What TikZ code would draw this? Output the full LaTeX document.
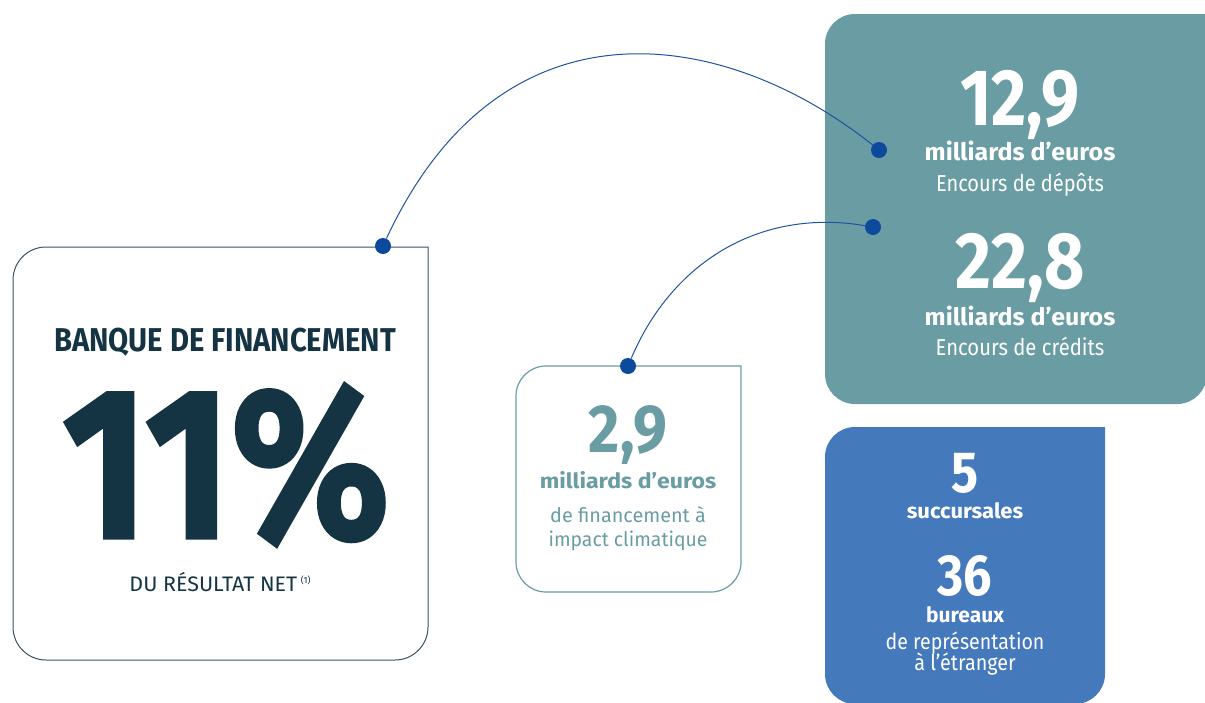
\documentclass[tikz,border=0pt]{standalone}
\usepackage{fontspec}
\setmainfont{Fira Sans}
\newfontfamily\heavyfont[BoldFeatures={FakeBold=1.5}]{Fira Sans}
\usepackage{graphicx}
\usepackage{tikz}

\definecolor{navy}{HTML}{143443}
\definecolor{boxnavy}{HTML}{3B5262}
\definecolor{tealbox}{HTML}{699DA3}
\definecolor{bluebox}{HTML}{4479BC}
\definecolor{dotblue}{HTML}{0E4A9B}
\definecolor{lineblue}{HTML}{1F539F}

\newcommand{\sq}[2][0.82]{\scalebox{#1}[1]{#2}}
\newcommand{\fs}[1]{\fontsize{#1}{#1}\selectfont}

\begin{document}
\begin{tikzpicture}[x=1pt,y=-1pt,
	dot/.style={shape=circle,fill=dotblue,inner sep=0pt,minimum size=16pt},
	link/.style={draw=lineblue,line width=1pt},
	txt/.style={anchor=base,inner sep=0pt}]
	\useasboundingbox (0,0) rectangle (1205,702);

	\fill[tealbox] (1000,14) -- (1207,14) [rounded corners=30pt] -- (1207,404) -- (825,404) -- (825,14) -- cycle;
	\fill[bluebox] (965,427) -- (1105,427) [rounded corners=30pt] -- (1105,704) -- (825,704) -- (825,427) -- cycle;
	\draw[boxnavy,line width=1pt] (220,247) -- (428,247) [rounded corners=33pt] -- (428,660) -- (13,660) -- (13,247) -- cycle;
	\draw[tealbox,line width=1.2pt] (628,366) -- (741,366) [rounded corners=30pt] -- (741,592) -- (516,592) -- (516,366) -- cycle;

	\node[dot] (d1) at (383,246) {};
	\node[dot] (d2) at (879,150) {};
	\node[dot] (d3) at (873,227) {};
	\node[dot] (d4) at (628,366) {};

	\draw[link] (d1) .. controls (501,-8) and (723,26) .. (d2);
	\draw[link] (d4) .. controls (672,262) and (760,208) .. (d3);

	\node[txt,text=navy,font=\bfseries\fs{33}] (titre) at (225,351) {\sq[0.885]{BANQUE DE FINANCEMENT}};
	\node[txt,text=navy,font=\heavyfont\bfseries\fs{215}] (pct) at (226,538) {\sq[0.86]{11\%}};
	\node[txt,text=navy,font=\fs{21}] (net) at (220,591) {\sq[1.02]{DU RÉSULTAT NET\,\raisebox{8pt}{\fs{9}(1)}}};

	\node[txt,text=tealbox,font=\bfseries\fs{68}] (v29) at (628,452) {\sq[0.89]{2,9}};
	\node[txt,text=tealbox,font=\bfseries\fs{21}] (m29) at (628,488) {\sq[1.1]{milliards d’euros}};
	\node[txt,text=tealbox,font=\fs{20}] (f1) at (628,522) {\sq[0.99]{de financement à}};
	\node[txt,text=tealbox,font=\fs{20}] (f2) at (628,546) {\sq[0.97]{impact climatique}};

	\node[txt,text=white,font=\bfseries\fs{80}] (v129) at (1020,125) {\sq[0.85]{12,9}};
	\node[txt,text=white,font=\bfseries\fs{24}] (m129) at (1020,160) {\sq[1.04]{milliards d’euros}};
	\node[txt,text=white,font=\fs{23}] (e129) at (1020,191) {\sq[0.87]{Encours de dépôts}};
	\node[txt,text=white,font=\bfseries\fs{80}] (v228) at (1020,288) {\sq[0.87]{22,8}};
	\node[txt,text=white,font=\bfseries\fs{24}] (m228) at (1020,325) {\sq[1.04]{milliards d’euros}};
	\node[txt,text=white,font=\fs{23}] (e228) at (1020,355) {\sq[0.88]{Encours de crédits}};

	\node[txt,text=white,font=\bfseries\fs{58}] (v5) at (965,492) {\sq[0.87]{5}};
	\node[txt,text=white,font=\bfseries\fs{21}] (s5) at (965,518) {\sq[1.05]{succursales}};
	\node[txt,text=white,font=\bfseries\fs{58}] (v36) at (965,595) {\sq[0.87]{36}};
	\node[txt,text=white,font=\bfseries\fs{21}] (b36) at (965,622) {\sq[1.0]{bureaux}};
	\node[txt,text=white,font=\fs{22}] (r1) at (965,649) {\sq[0.89]{de représentation}};
	\node[txt,text=white,font=\fs{22}] (r2) at (965,670) {\sq[0.9]{à l’étranger}};
\end{tikzpicture}
\end{document}
